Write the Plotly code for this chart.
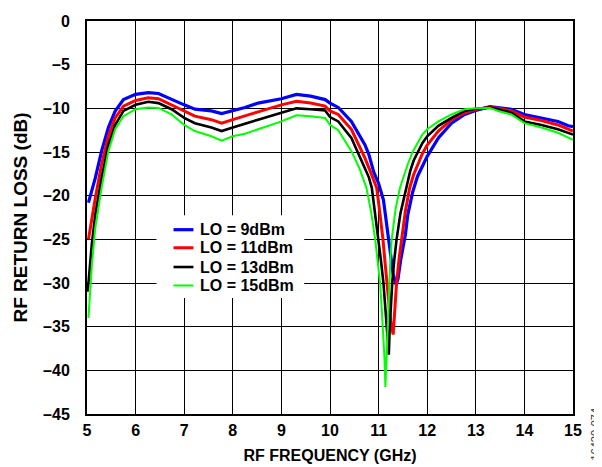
import plotly.graph_objects as go

# ---------------- data ----------------
names = ["LO = 9dBm", "LO = 11dBm", "LO = 13dBm", "LO = 15dBm"]
colors = ["#0000FF", "#FF0000", "#000000", "#00FF00"]
widths = [3.2, 3.0, 2.6, 2.0]

f_blue = [5.03, 5.1, 5.17, 5.3, 5.44, 5.58, 5.75, 6.0, 6.26, 6.47, 6.74, 7.0, 7.22, 7.56, 7.77, 8.0,
          8.25, 8.52, 9.0, 9.31, 9.6, 9.9, 10.0, 10.17, 10.44, 10.72, 10.8, 10.9, 11.0, 11.1, 11.15,
          11.2, 11.25, 11.3, 11.36, 11.4, 11.45, 11.5, 11.55, 11.6, 11.7, 11.8, 11.9, 12.0, 12.23,
          12.5, 12.77, 13.0, 13.29, 13.46, 13.73, 14.0, 14.35, 14.69, 14.9, 15.0]
rl_blue = [-20.8, -19.5, -18.0, -14.9, -12.2, -10.3, -9.0, -8.4, -8.2, -8.3, -9.0, -9.6, -10.1, -10.3,
           -10.6, -10.3, -9.9, -9.4, -8.9, -8.4, -8.6, -9.0, -9.4, -9.9, -11.5, -14.2, -15.3, -17.3,
           -18.6, -20.5, -22.5, -25.0, -27.0, -29.0, -30.2, -29.5, -27.5, -26.0, -24.5, -22.2, -19.6,
           -17.8, -16.6, -15.5, -13.4, -11.7, -10.7, -10.25, -9.8, -9.95, -10.1, -10.7, -11.1, -11.5,
           -12.0, -12.1]

f_red = [5.03, 5.1, 5.17, 5.3, 5.44, 5.58, 5.75, 6.0, 6.26, 6.47, 6.74, 7.0, 7.22, 7.56, 7.77, 8.0,
         8.25, 8.52, 9.0, 9.31, 9.6, 9.9, 10.0, 10.17, 10.44, 10.72, 10.85, 10.96, 11.0, 11.05, 11.09,
         11.13, 11.17, 11.21, 11.25, 11.3, 11.33, 11.37, 11.42, 11.47, 11.55, 11.64, 11.72, 11.81,
         11.9, 12.0, 12.23, 12.5, 12.77, 13.0, 13.29, 13.46, 13.73, 14.0, 14.35, 14.69, 15.0]
rl_red = [-25.0, -22.5, -20.3, -16.4, -13.2, -11.1, -9.75, -9.1, -8.8, -8.9, -9.6, -10.3, -10.9, -11.3,
          -11.7, -11.3, -10.9, -10.4, -9.6, -9.2, -9.4, -9.75, -10.3, -10.7, -12.4, -15.7, -17.5, -19.1,
          -20.8, -23.0, -25.0, -27.5, -30.0, -32.5, -34.5, -35.9, -33.0, -30.0, -27.3, -25.0, -21.8,
          -19.1, -17.6, -16.4, -15.2, -14.2, -12.6, -11.3, -10.5, -10.1, -9.9, -10.0, -10.3, -11.0,
          -11.4, -11.9, -12.6]

f_black = [5.01, 5.03, 5.1, 5.17, 5.3, 5.44, 5.58, 5.75, 6.0, 6.26, 6.47, 6.74, 7.0, 7.22, 7.56, 7.77,
           8.0, 8.25, 8.52, 9.0, 9.31, 9.6, 9.9, 10.0, 10.17, 10.44, 10.72, 10.8, 10.86, 10.93, 11.0,
           11.05, 11.1, 11.13, 11.16, 11.19, 11.21, 11.23, 11.25, 11.28, 11.32, 11.37, 11.45, 11.57,
           11.65, 11.72, 11.81, 11.9, 12.0, 12.23, 12.5, 12.77, 13.0, 13.29, 13.46, 13.73, 14.0, 14.35,
           14.69, 15.0]
rl_black = [-31.0, -30.0, -25.5, -22.2, -18.0, -14.2, -11.9, -10.3, -9.6, -9.25, -9.4, -10.1, -11.1,
            -11.7, -12.2, -12.6, -12.2, -11.8, -11.3, -10.5, -10.0, -10.1, -10.25, -11.0, -11.5, -13.4,
            -16.8, -17.9, -19.1, -22.0, -25.0, -27.5, -30.0, -32.5, -35.0, -37.0, -38.2, -35.0, -32.5,
            -30.0, -27.5, -25.0, -22.0, -19.1, -17.2, -16.0, -14.9, -14.0, -13.2, -12.0, -11.1, -10.3,
            -10.05, -9.9, -10.1, -10.5, -11.5, -11.9, -12.4, -13.0]

f_green = [5.03, 5.1, 5.17, 5.3, 5.44, 5.58, 5.75, 6.0, 6.26, 6.47, 6.74, 7.0, 7.22, 7.56, 7.77, 8.0,
           8.25, 8.52, 9.0, 9.31, 9.6, 9.9, 10.0, 10.17, 10.44, 10.6, 10.75, 10.85, 10.93, 10.98, 11.03,
           11.06, 11.09, 11.12, 11.14, 11.16, 11.18, 11.2, 11.21, 11.24, 11.27, 11.35, 11.44, 11.52,
           11.6, 11.7, 11.81, 11.9, 12.0, 12.23, 12.5, 12.77, 13.0, 13.29, 13.46, 13.73, 14.0, 14.35,
           14.69, 15.0]
rl_green = [-34.0, -28.0, -23.7, -19.1, -14.9, -12.4, -10.9, -10.1, -9.9, -9.95, -10.7, -11.9, -12.6,
            -13.2, -13.7, -13.2, -12.9, -12.4, -11.5, -10.8, -10.9, -11.1, -11.9, -12.5, -14.9, -16.8,
            -19.1, -22.0, -25.0, -27.5, -30.0, -32.5, -35.0, -38.5, -41.9, -38.5, -35.0, -32.5, -30.0,
            -27.5, -25.0, -21.5, -19.1, -17.6, -16.4, -15.0, -13.8, -13.0, -12.4, -11.5, -10.7, -10.1,
            -10.0, -9.95, -10.3, -10.7, -11.7, -12.2, -12.8, -13.6]

x_ticks = [5, 6, 7, 8, 9, 10, 11, 12, 13, 14, 15]
y_ticks = [0, -5, -10, -15, -20, -25, -30, -35, -40, -45]
y_ticktext = ["0" if v == 0 else "\u2013" + str(abs(v)) for v in y_ticks]

freqs = [f_blue, f_red, f_black, f_green]
values = [rl_blue, rl_red, rl_black, rl_green]

FONT = "Liberation Sans, Arial, sans-serif"
TICKFONT = dict(family=FONT, size=16, color="black", weight="bold")

fig = go.Figure()
for n, c, w, fx, vy in zip(names, colors, widths, freqs, values):
    fig.add_trace(go.Scatter(x=fx, y=vy, mode="lines", name=n,
                             line=dict(color=c, width=w), showlegend=False))

fig.update_layout(
    width=602, height=467,
    margin=dict(l=78.5, r=37, t=13.3, b=61.3),
    paper_bgcolor="white", plot_bgcolor="white",
    font=dict(family=FONT, color="black"),
    showlegend=False,
    xaxis=dict(range=[5, 15], tickvals=x_ticks, ticktext=[str(v) for v in x_ticks],
               showgrid=True, gridcolor="black", gridwidth=1.2,
               showline=True, linecolor="black", linewidth=2, mirror=True,
               ticks="", ticklabelstandoff=1, automargin=False,
               tickfont=TICKFONT,
               title=dict(text="RF FREQUENCY (GHz)", standoff=12,
                          font=dict(family=FONT, size=16, color="black", weight="bold")),
               zeroline=False),
    yaxis=dict(range=[-45, 0], tickvals=y_ticks, ticktext=y_ticktext,
               showgrid=True, gridcolor="black", gridwidth=1.2,
               showline=True, linecolor="black", linewidth=2, mirror=True,
               ticks="", ticklabelstandoff=12, automargin=False,
               tickfont=TICKFONT,
               title=dict(text="RF RETURN LOSS (dB)", standoff=10,
                          font=dict(family=FONT, size=19, color="black", weight="bold")),
               zeroline=False),
)

# ---- legend box (white, covering the grid), drawn like the reference ----
fig.add_shape(type="rect", xref="paper", yref="paper", x0=0.143, x1=0.447, y0=0.295, y1=0.506,
              fillcolor="white", line=dict(width=0), layer="above")
legend_rows = [0.469, 0.423, 0.374, 0.327]
for n, c, w, yy in zip(names, colors, widths, legend_rows):
    fig.add_shape(type="line", xref="paper", yref="paper", x0=0.178, x1=0.219, y0=yy, y1=yy,
                  line=dict(color=c, width=w), layer="above")
    fig.add_annotation(text=n, xref="paper", yref="paper", x=0.229, y=yy, xanchor="left",
                       yanchor="middle", showarrow=False,
                       font=dict(family=FONT, size=16, color="black", weight="bold"))

fig.add_annotation(text="16420-074", xref="paper", yref="paper", x=1.045, y=-0.05,
                   xanchor="center", yanchor="middle", textangle=-90, showarrow=False,
                   font=dict(family=FONT, size=11, color="#333333"))

fig.write_html("out.html")
